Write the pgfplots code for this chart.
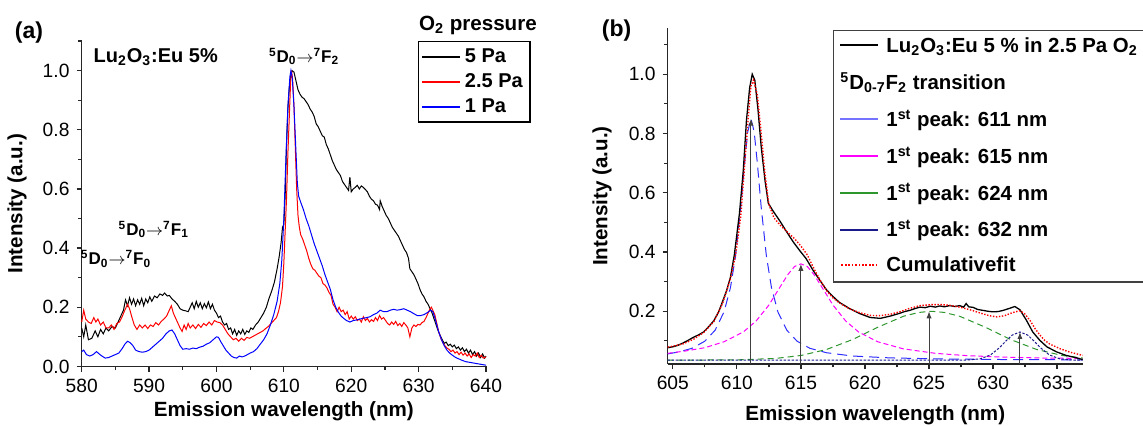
\documentclass[border=0pt]{standalone}
\usepackage{fontspec}
\setmainfont{Liberation Sans}
\usepackage{pgfplots}
\pgfplotsset{compat=1.18}
\usetikzlibrary{arrows.meta}

\definecolor{fitblue}{RGB}{45,45,255}
\definecolor{legblue}{RGB}{115,115,255}
\definecolor{fitmag}{RGB}{255,0,255}
\definecolor{fitgreen}{RGB}{45,150,45}
\definecolor{fitnavy}{RGB}{25,25,140}

% legend line samples set as coloured rules inside the entry text
\newcommand{\lsample}[1]{\textcolor{#1}{\rule[3.1pt]{19pt}{0.95pt}}\hspace{4pt}}
\newcommand{\ldotted}[1]{\textcolor{#1}{\xleaders\hbox to 1.6pt{\hss\rule[3.1pt]{0.9pt}{0.9pt}\hss}\hskip 19pt}\hspace{4pt}}

\pgfplotsset{
  panel/.style={
    scale only axis, clip=false,
    axis lines*=left, axis line style={-, black!85, line width=0.6pt},
    tick align=outside, tick style={black!85, line width=0.6pt},
    major tick length=2.6pt, minor tick length=1.7pt,
    ticklabel style={font=\fontsize{9.6}{11}\selectfont},
    label style={font=\bfseries\fontsize{10.3}{12}\selectfont},
    /pgf/number format/assume math mode=true,
    yticklabel style={/pgf/number format/.cd, fixed, fixed zerofill, precision=1},
  },
  sample/.style={legend image code/.code={\draw[#1] (0pt,0pt) -- (19pt,0pt);}},
}

\begin{document}
\begin{tikzpicture}
\useasboundingbox (0,0) rectangle (571.5pt,213pt);

\node[font=\bfseries\fontsize{11.5}{13}\selectfont] at (14.5pt,196.7pt) {(a)};
\node[font=\bfseries\fontsize{11.5}{13}\selectfont] at (308.3pt,197.5pt) {(b)};

% ---------------- panel (a)
\begin{axis}[panel,
  at={(40.85pt,29.8pt)}, anchor=south west,
  width=202.15pt, height=162.7pt,
  xmin=580, xmax=640, ymin=0, ymax=1.1,
  xtick={580,590,600,610,620,630,640},
  minor xtick={585,595,605,615,625,635},
  ytick={0,0.2,0.4,0.6,0.8,1.0},
  minor ytick={0.1,0.3,0.5,0.7,0.9,1.1},
  xlabel={Emission wavelength (nm)},
  ylabel={Intensity (a.u.)},
  xlabel style={at={(axis description cs:0.5,-0.138)}, anchor=center},
  ylabel style={at={(axis description cs:-0.16,0.5)}, anchor=center},
  legend style={at={(0.831,1.0)}, anchor=north west, draw=black, line width=0.7pt,
    font=\bfseries\fontsize{10}{12}\selectfont, cells={anchor=west},
    inner sep=1.5pt, row sep=0pt},
]
\addplot[black, line width=0.5pt, forget plot] coordinates {
(580.0,0.13) (580.3,0.10) (580.6,0.14) (581.0,0.09) (581.5,0.095) (582.0,0.12) (582.4,0.10)
(582.8,0.125) (583.2,0.11) (583.6,0.13) (584.0,0.12) (584.5,0.135) (585.0,0.13) (585.4,0.15)
(585.8,0.17) (586.2,0.19) (586.5,0.225) (586.8,0.205) (587.1,0.232) (587.4,0.21) (587.7,0.228)
(588.0,0.205) (588.3,0.225) (588.6,0.21) (588.9,0.23) (589.2,0.205) (589.5,0.228) (589.8,0.215)
(590.1,0.235) (590.4,0.22) (590.8,0.238) (591.2,0.232) (591.6,0.245) (592.0,0.24) (592.3,0.248)
(592.7,0.238) (593.0,0.24) (593.4,0.228) (593.8,0.22) (594.2,0.21) (594.6,0.195) (595.0,0.19)
(595.4,0.188) (595.8,0.185) (596.1,0.2) (596.4,0.215) (596.7,0.195) (597.0,0.22) (597.3,0.2)
(597.6,0.215) (597.9,0.195) (598.2,0.212) (598.5,0.198) (598.8,0.218) (599.1,0.195) (599.4,0.21)
(599.7,0.19) (600.0,0.18) (600.3,0.165) (600.6,0.17) (600.9,0.15) (601.2,0.14) (601.5,0.145)
(601.8,0.125) (602.1,0.13) (602.4,0.11) (602.7,0.125) (603.0,0.105) (603.3,0.12) (603.6,0.11)
(603.9,0.125) (604.2,0.108) (604.5,0.12) (604.8,0.115) (605.1,0.13) (605.4,0.125) (605.8,0.14)
(606.2,0.15) (606.6,0.165) (607.0,0.18) (607.4,0.2) (607.8,0.23) (608.2,0.255) (608.6,0.285)
(609.0,0.33) (609.3,0.37) (609.6,0.42) (609.8,0.47) (610.0,0.48) (610.2,0.58) (610.4,0.75)
(610.6,0.87) (610.8,0.94) (611.0,0.98) (611.2,1.0) (611.5,0.995) (611.8,0.965) (612.1,0.935)
(612.4,0.92) (612.7,0.91) (613.0,0.905) (613.3,0.895) (613.6,0.885) (613.9,0.87) (614.2,0.86)
(614.5,0.845) (614.8,0.82) (615.1,0.81) (615.4,0.795) (615.7,0.78) (616.0,0.775) (616.3,0.75)
(616.6,0.735) (616.9,0.715) (617.2,0.695) (617.5,0.68) (617.8,0.665) (618.1,0.655) (618.4,0.645)
(618.7,0.625) (619.0,0.615) (619.3,0.605) (619.6,0.595) (619.8,0.64) (620.0,0.59) (620.3,0.6)
(620.6,0.605) (620.9,0.612) (621.2,0.6) (621.5,0.61) (621.8,0.605) (622.1,0.598) (622.4,0.59)
(622.7,0.575) (623.0,0.565) (623.3,0.56) (623.6,0.548) (623.9,0.545) (624.2,0.53) (624.3,0.56)
(624.6,0.54) (624.9,0.525) (625.2,0.51) (625.5,0.5) (625.8,0.485) (626.1,0.47) (626.4,0.46)
(626.7,0.45) (627.0,0.44) (627.3,0.425) (627.6,0.41) (627.9,0.395) (628.2,0.385) (628.5,0.365)
(628.7,0.33) (629.0,0.32) (629.3,0.31) (629.6,0.295) (629.9,0.28) (630.2,0.26) (630.5,0.245)
(630.8,0.235) (631.1,0.22) (631.4,0.21) (631.7,0.195) (632.0,0.18) (632.3,0.16) (632.6,0.14)
(632.9,0.12) (633.2,0.105) (633.5,0.09) (633.8,0.078) (634.1,0.082) (634.4,0.07) (634.7,0.075)
(635.0,0.066) (635.3,0.072) (635.6,0.06) (635.9,0.066) (636.2,0.055) (636.5,0.063) (636.8,0.05)
(637.1,0.058) (637.4,0.045) (637.7,0.055) (638.0,0.04) (638.3,0.05) (638.6,0.035) (638.9,0.045)
(639.2,0.03) (639.5,0.042) (639.8,0.028) (640.0,0.035)
};
\addplot[red, line width=0.5pt, forget plot] coordinates {
(580.0,0.15) (580.3,0.19) (580.6,0.16) (581.0,0.15) (581.4,0.145) (581.8,0.165) (582.1,0.15)
(582.4,0.16) (582.8,0.14) (583.2,0.15) (583.6,0.13) (584.0,0.13) (584.4,0.14) (584.8,0.125)
(585.2,0.145) (585.6,0.15) (586.0,0.168) (586.4,0.19) (586.8,0.21) (587.1,0.195) (587.4,0.17)
(587.8,0.14) (588.2,0.125) (588.6,0.14) (589.0,0.13) (589.4,0.14) (589.8,0.128) (590.2,0.14)
(590.6,0.135) (591.0,0.148) (591.4,0.14) (591.8,0.152) (592.2,0.16) (592.6,0.17) (593.0,0.19)
(593.3,0.205) (593.6,0.18) (593.9,0.165) (594.2,0.15) (594.6,0.13) (594.9,0.118) (595.2,0.14)
(595.5,0.125) (595.8,0.145) (596.1,0.13) (596.5,0.14) (596.9,0.128) (597.3,0.142) (597.7,0.132)
(598.1,0.145) (598.5,0.138) (598.9,0.15) (599.3,0.14) (599.7,0.155) (600.1,0.15) (600.5,0.148)
(600.9,0.14) (601.3,0.125) (601.7,0.11) (602.1,0.1) (602.5,0.09) (602.9,0.095) (603.3,0.085)
(603.7,0.095) (604.1,0.088) (604.5,0.098) (604.9,0.095) (605.3,0.1) (605.7,0.105) (606.1,0.11)
(606.5,0.115) (606.9,0.12) (607.3,0.128) (607.7,0.135) (608.1,0.145) (608.5,0.155) (608.9,0.165)
(609.2,0.185) (609.5,0.215) (609.8,0.27) (610.0,0.35) (610.2,0.46) (610.4,0.57) (610.6,0.72)
(610.8,0.84) (611.0,0.96) (611.15,1.0) (611.3,0.97) (611.5,0.88) (611.7,0.74) (611.9,0.6)
(612.1,0.51) (612.3,0.47) (612.5,0.445) (612.8,0.43) (613.1,0.41) (613.4,0.39) (613.7,0.365)
(614.0,0.345) (614.3,0.33) (614.6,0.325) (614.9,0.315) (615.2,0.305) (615.5,0.3) (615.8,0.28)
(616.1,0.275) (616.4,0.265) (616.7,0.25) (617.0,0.24) (617.3,0.21) (617.6,0.2) (617.9,0.185)
(618.2,0.2) (618.5,0.185) (618.8,0.19) (619.1,0.175) (619.4,0.185) (619.7,0.16) (620.0,0.17)
(620.3,0.16) (620.6,0.168) (620.9,0.155) (621.2,0.16) (621.5,0.15) (621.8,0.168) (622.1,0.155)
(622.4,0.162) (622.7,0.15) (623.0,0.158) (623.3,0.152) (623.6,0.165) (623.9,0.155) (624.2,0.172)
(624.5,0.16) (624.8,0.165) (625.1,0.155) (625.4,0.145) (625.7,0.14) (626.0,0.15) (626.3,0.142)
(626.6,0.152) (626.9,0.138) (627.2,0.145) (627.5,0.135) (627.8,0.148) (628.1,0.14) (628.4,0.13)
(628.7,0.1) (629.0,0.13) (629.3,0.14) (629.6,0.135) (629.9,0.142) (630.2,0.14) (630.5,0.148)
(630.8,0.152) (631.1,0.165) (631.4,0.18) (631.7,0.195) (631.9,0.2) (632.1,0.19) (632.4,0.175)
(632.7,0.145) (633.0,0.115) (633.3,0.095) (633.6,0.08) (633.9,0.07) (634.2,0.062) (634.5,0.058)
(634.8,0.05) (635.1,0.055) (635.4,0.045) (635.7,0.05) (636.0,0.04) (636.3,0.048) (636.6,0.038)
(636.9,0.045) (637.2,0.035) (637.5,0.042) (637.8,0.03) (638.1,0.04) (638.4,0.035) (638.7,0.045)
(639.0,0.03) (639.3,0.038) (639.6,0.028) (640.0,0.032)
};
\addplot[blue, line width=0.5pt, forget plot] coordinates {
(580.0,0.05) (580.3,0.055) (580.7,0.04) (581.2,0.035) (581.7,0.04) (582.2,0.05) (582.6,0.042)
(583.0,0.035) (583.5,0.028) (584.0,0.03) (584.5,0.035) (585.0,0.04) (585.5,0.045) (586.0,0.06)
(586.4,0.075) (586.8,0.085) (587.2,0.08) (587.6,0.07) (588.0,0.055) (588.5,0.05) (589.0,0.048)
(589.5,0.05) (590.0,0.055) (590.5,0.065) (591.0,0.075) (591.5,0.085) (592.0,0.095) (592.5,0.11)
(593.0,0.12) (593.4,0.123) (593.8,0.11) (594.2,0.09) (594.6,0.07) (595.0,0.058) (595.5,0.06)
(596.0,0.058) (596.5,0.062) (597.0,0.06) (597.5,0.065) (598.0,0.068) (598.5,0.075) (599.0,0.08)
(599.5,0.09) (600.0,0.1) (600.3,0.098) (600.6,0.085) (601.0,0.07) (601.4,0.055) (601.8,0.045)
(602.2,0.035) (602.6,0.03) (603.0,0.028) (603.4,0.035) (603.8,0.032) (604.2,0.035) (604.6,0.04)
(605.0,0.045) (605.5,0.05) (606.0,0.06) (606.5,0.075) (607.0,0.09) (607.5,0.11) (608.0,0.14)
(608.5,0.175) (609.0,0.22) (609.4,0.28) (609.7,0.36) (610.0,0.5) (610.3,0.7) (610.6,0.88)
(610.9,0.98) (611.05,1.0) (611.25,0.975) (611.5,0.88) (611.75,0.75) (612.0,0.62) (612.2,0.575)
(612.5,0.555) (612.9,0.53) (613.3,0.5) (613.7,0.475) (614.1,0.445) (614.5,0.415) (614.9,0.39)
(615.3,0.365) (615.7,0.34) (616.1,0.31) (616.5,0.285) (616.9,0.26) (617.3,0.225) (617.7,0.2)
(618.1,0.183) (618.5,0.17) (618.9,0.162) (619.3,0.155) (619.8,0.15) (620.3,0.155) (620.8,0.157)
(621.3,0.16) (621.8,0.163) (622.3,0.165) (622.8,0.168) (623.3,0.175) (623.8,0.18) (624.3,0.19)
(624.8,0.185) (625.3,0.185) (625.8,0.19) (626.3,0.193) (626.8,0.19) (627.3,0.192) (627.8,0.195)
(628.3,0.19) (628.8,0.185) (629.3,0.178) (629.8,0.172) (630.3,0.172) (630.8,0.175) (631.3,0.182)
(631.8,0.19) (632.1,0.185) (632.4,0.165) (632.7,0.14) (633.0,0.115) (633.4,0.09) (633.8,0.07)
(634.2,0.055) (634.6,0.045) (635.0,0.038) (635.5,0.03) (636.0,0.025) (636.5,0.02) (637.0,0.016)
(637.5,0.014) (638.0,0.012) (638.5,0.01) (639.0,0.008) (639.5,0.006) (640.0,0.004)
};
\addlegendimage{sample={black, line width=0.8pt}}
\addlegendentry{5 Pa}
\addlegendimage{sample={red, line width=0.8pt}}
\addlegendentry{2.5 Pa}
\addlegendimage{sample={blue, line width=0.8pt}}
\addlegendentry{1 Pa}

\node[anchor=west, font=\bfseries\fontsize{10}{12}\selectfont] at (rel axis cs:0.012,0.951)
  {Lu\textsubscript{2}O\textsubscript{3}:Eu 5\%};
\node[font=\bfseries\fontsize{8.5}{10}\selectfont] at (axis cs:613.0,1.047)
  {\textsuperscript{5}D\textsubscript{0}$\rightarrow$\textsuperscript{7}F\textsubscript{2}};
\node[font=\bfseries\fontsize{8.5}{10}\selectfont] at (axis cs:590.7,0.462)
  {\textsuperscript{5}D\textsubscript{0}$\rightarrow$\textsuperscript{7}F\textsubscript{1}};
\node[font=\bfseries\fontsize{8.5}{10}\selectfont] at (axis cs:585.1,0.363)
  {\textsuperscript{5}D\textsubscript{0}$\rightarrow$\textsuperscript{7}F\textsubscript{0}};
\node[font=\bfseries\fontsize{10.3}{12}\selectfont] at (rel axis cs:0.98,1.049)
  {O\textsubscript{2} pressure};
\end{axis}

% ---------------- panel (b)
\begin{axis}[panel,
  at={(333.85pt,31pt)}, anchor=south west,
  width=207.5pt, height=167.85pt,
  xmin=604.6, xmax=637, ymin=0.022, ymax=1.155,
  xtick={605,610,615,620,625,630,635},
  minor xtick={607.5,612.5,617.5,622.5,627.5,632.5},
  ytick={0.2,0.4,0.6,0.8,1.0},
  minor ytick={0.1,0.3,0.5,0.7,0.9,1.1},
  xlabel={Emission wavelength (nm)},
  ylabel={Intensity (a.u.)},
  xlabel style={at={(axis description cs:0.5,-0.152)}, anchor=center},
  ylabel style={at={(axis description cs:-0.158,0.5)}, anchor=center},
  legend style={at={(0.3976,0.995)}, anchor=north west, draw=black!75, line width=0.7pt,
    font=\bfseries\fontsize{10.2}{12}\selectfont, cells={anchor=west, inner xsep=0.6pt},
    inner sep=1.5pt, row sep=4.6pt, column sep=0pt},
]
% fitted components
\addplot[fitblue, line width=0.5pt, dash pattern=on 5pt off 3pt, forget plot] coordinates {
(604.6,0.056) (605.5,0.063) (606.5,0.075) (607.5,0.099) (608.3,0.136) (609.0,0.198) (609.5,0.280)
(609.9,0.388) (610.3,0.551) (610.6,0.699) (610.85,0.806) (611.1,0.85) (611.35,0.806) (611.6,0.699)
(611.9,0.551) (612.3,0.388) (612.7,0.280) (613.2,0.198) (613.9,0.136) (614.7,0.099) (615.7,0.075)
(617.0,0.060) (619.0,0.049) (622.0,0.0425) (626.0,0.039) (631.0,0.037) (637.0,0.036)
};
\addplot[fitmag, line width=0.5pt, dash pattern=on 2.5pt off 1.5pt, forget plot] coordinates {
(604.6,0.058) (606.0,0.066) (607.5,0.077) (609.0,0.097) (610.5,0.130) (611.5,0.167) (612.5,0.221)
(613.3,0.277) (614.0,0.325) (614.5,0.351) (615.0,0.36) (615.5,0.351) (616.0,0.325) (616.7,0.277)
(617.5,0.221) (618.5,0.167) (619.5,0.130) (621.0,0.097) (623.0,0.073) (625.5,0.058) (628.0,0.050)
(631.0,0.045) (634.0,0.042) (637.0,0.041)
};
\addplot[fitgreen, line width=0.5pt, dash pattern=on 3pt off 2pt, forget plot] coordinates {
(604.6,0.035) (610.0,0.0359) (613.0,0.0407) (615.0,0.0507) (617.0,0.071) (619.0,0.104) (621.0,0.146)
(623.0,0.183) (624.2,0.196) (625.2,0.200) (626.2,0.196) (627.4,0.183) (629.4,0.146) (631.4,0.104)
(633.4,0.071) (635.4,0.0507) (637.0,0.042)
};
\addplot[fitnavy, line width=0.5pt, dash pattern=on 1.2pt off 0.8pt, forget plot] coordinates {
(604.6,0.035) (628.0,0.0354) (629.0,0.0394) (629.8,0.0525) (630.5,0.0769) (631.0,0.0995) (631.5,0.1197)
(632.1,0.13) (632.7,0.1197) (633.2,0.0995) (633.7,0.0769) (634.4,0.0525) (635.2,0.0394) (636.2,0.0354)
(637.0,0.035)
};
% peak markers
\addplot[black!75, line width=0.5pt, -{Latex[length=3.5pt,width=2.6pt]}, forget plot] coordinates {(611.1,0.022) (611.1,0.85)};
\addplot[black!75, line width=0.5pt, -{Latex[length=3.5pt,width=2.6pt]}, forget plot] coordinates {(615.0,0.022) (615.0,0.36)};
\addplot[black!75, line width=0.5pt, -{Latex[length=3.5pt,width=2.6pt]}, forget plot] coordinates {(625.0,0.022) (625.0,0.20)};
\addplot[black!75, line width=0.5pt, -{Latex[length=3.5pt,width=2.6pt]}, forget plot] coordinates {(632.1,0.022) (632.1,0.13)};
% measured spectrum
\addplot[black, line width=0.65pt, forget plot] coordinates {
(604.6,0.077) (605.0,0.08) (605.4,0.085) (605.8,0.093) (606.2,0.102) (606.6,0.112) (607.0,0.12)
(607.4,0.13) (607.8,0.148) (608.2,0.168) (608.6,0.2) (608.9,0.235) (609.2,0.27) (609.5,0.315)
(609.8,0.39) (610.0,0.46) (610.2,0.53) (610.5,0.675) (610.75,0.845) (611.0,0.955) (611.2,1.0)
(611.4,0.98) (611.65,0.88) (611.9,0.755) (612.2,0.64) (612.45,0.565) (612.8,0.54) (613.35,0.505)
(613.9,0.467) (614.4,0.434) (614.9,0.405) (615.4,0.378) (615.95,0.338) (616.5,0.303) (617.0,0.272)
(617.5,0.25) (618.0,0.23) (618.8,0.209) (619.6,0.192) (620.4,0.179) (621.2,0.176) (622.0,0.184)
(622.7,0.193) (623.1,0.199) (623.5,0.203) (623.9,0.209) (624.3,0.214) (624.7,0.212) (625.1,0.217)
(625.5,0.214) (625.85,0.218) (626.2,0.215) (626.6,0.219) (627.0,0.216) (627.4,0.219) (627.7,0.214)
(627.9,0.226) (628.1,0.215) (628.45,0.213) (628.8,0.206) (629.2,0.203) (629.6,0.2) (630.0,0.198)
(630.4,0.199) (630.8,0.203) (631.3,0.21) (631.7,0.216) (632.1,0.205) (632.6,0.17) (633.1,0.13)
(633.65,0.102) (634.2,0.08) (634.95,0.063) (635.7,0.051) (636.5,0.043) (637.0,0.037)
};
% cumulative fit
\addplot[red, line width=0.7pt, dash pattern=on 0.7pt off 0.8pt, forget plot] coordinates {
(604.6,0.079) (605.0,0.082) (605.8,0.09) (606.6,0.105) (607.4,0.128) (608.2,0.165) (608.9,0.228)
(609.5,0.31) (609.9,0.39) (610.3,0.52) (610.6,0.69) (610.9,0.86) (611.1,0.96) (611.3,0.98)
(611.6,0.93) (611.9,0.8) (612.2,0.66) (612.5,0.56) (612.9,0.515) (613.4,0.49) (614.0,0.465)
(614.5,0.445) (615.0,0.42) (615.5,0.39) (616.0,0.345) (616.5,0.305) (617.0,0.27) (617.5,0.245)
(618.0,0.228) (618.8,0.208) (619.6,0.195) (620.4,0.186) (621.2,0.185) (622.0,0.19) (622.7,0.198)
(623.5,0.21) (624.3,0.219) (625.1,0.222) (625.8,0.223) (626.6,0.22) (627.4,0.214) (628.2,0.205)
(629.0,0.194) (629.7,0.185) (630.3,0.181) (630.9,0.185) (631.5,0.195) (632.1,0.202) (632.5,0.19)
(632.9,0.168) (633.3,0.14) (633.65,0.12) (634.0,0.103) (634.4,0.09) (635.2,0.074) (636.0,0.062)
(637.0,0.051)
};
% legend: samples are coloured rules in the entry text
\addlegendimage{empty legend}
\addlegendentry{\lsample{black}Lu\textsubscript{2}O\textsubscript{3}:Eu 5 \% in 2.5 Pa O\textsubscript{2}}
\addlegendimage{empty legend}
\addlegendentry{\textsuperscript{5}D\textsubscript{0-7}F\textsubscript{2} transition}
\addlegendimage{empty legend}
\addlegendentry{\lsample{legblue}1\textsuperscript{st} peak: 611 nm}
\addlegendimage{empty legend}
\addlegendentry{\lsample{fitmag}1\textsuperscript{st} peak: 615 nm}
\addlegendimage{empty legend}
\addlegendentry{\lsample{fitgreen}1\textsuperscript{st} peak: 624 nm}
\addlegendimage{empty legend}
\addlegendentry{\lsample{fitnavy}1\textsuperscript{st} peak: 632 nm}
\addlegendimage{empty legend}
\addlegendentry{\ldotted{red}Cumulativefit}
\end{axis}
\end{tikzpicture}
\end{document}
